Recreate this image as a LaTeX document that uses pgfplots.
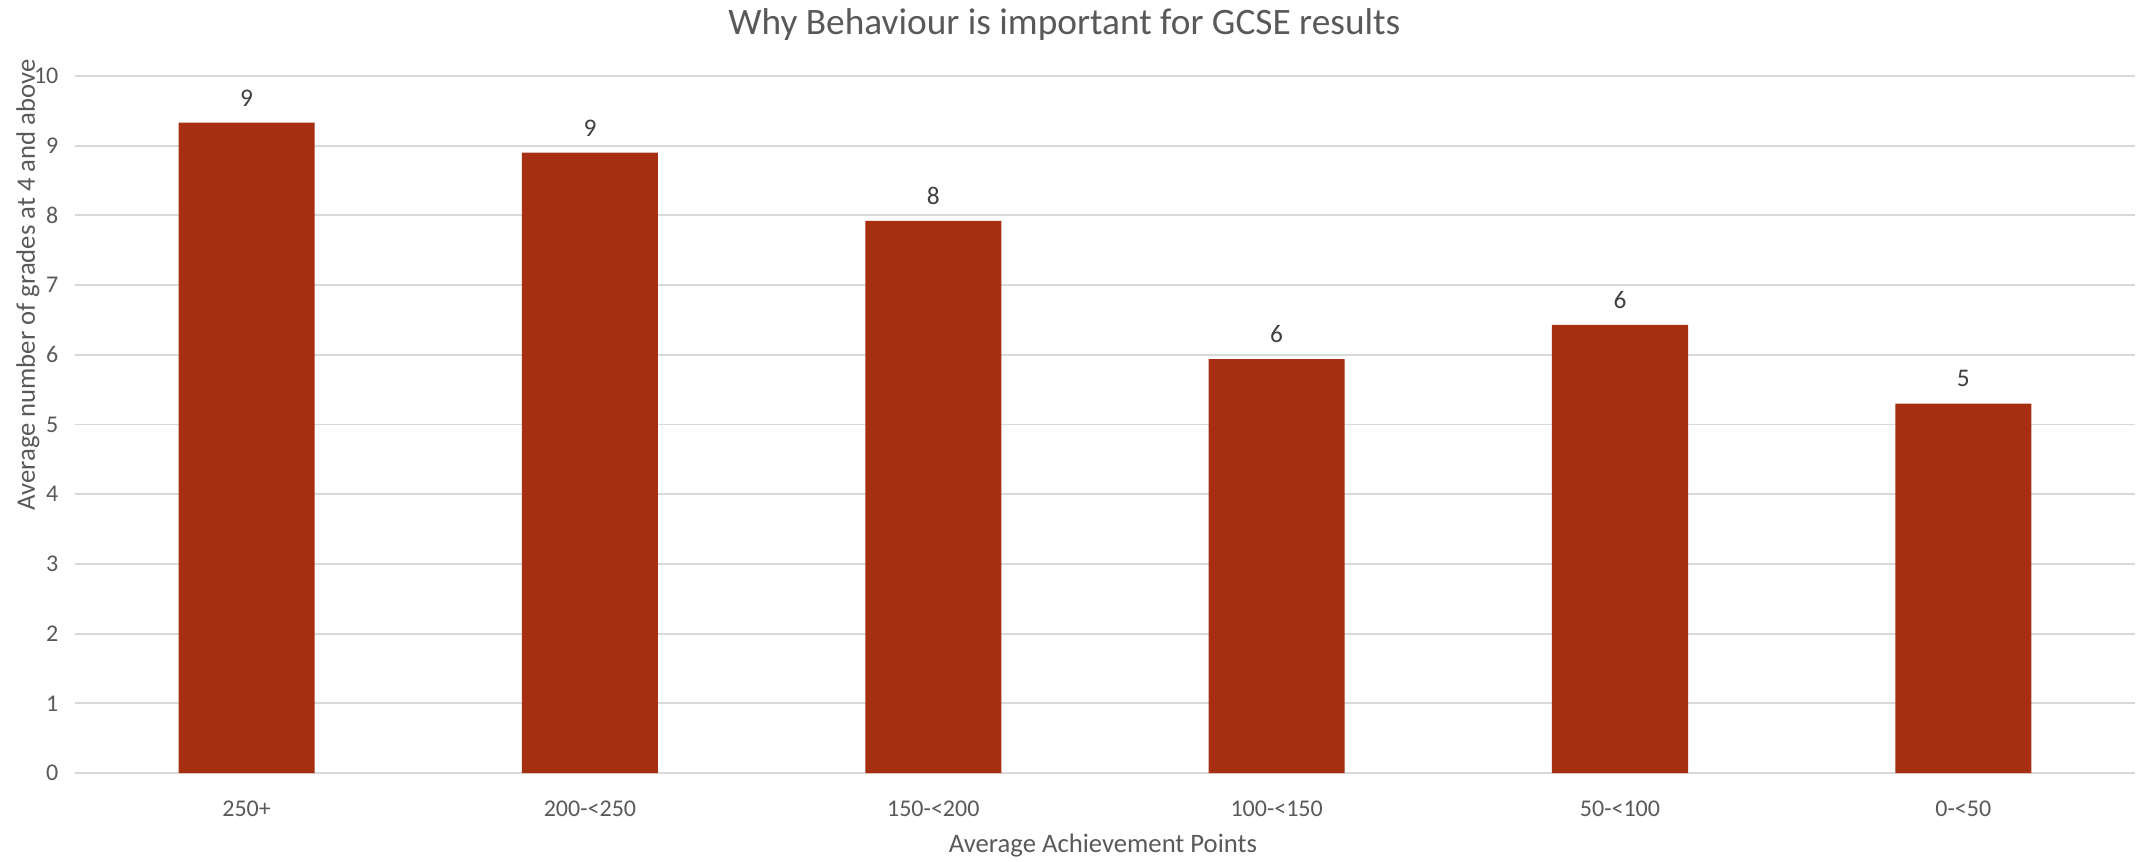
\documentclass[border=0pt]{standalone}
\usepackage{pgfplots}
\pgfplotsset{compat=1.18}
\usepackage{fontspec}
\setmainfont{Carlito}
\definecolor{barred}{HTML}{A52F10}
\definecolor{txtgray}{HTML}{595959}
\definecolor{lblgray}{HTML}{404040}
\definecolor{gridgray}{HTML}{D9D9D9}
\begin{document}
\begin{tikzpicture}
\begin{axis}[
  at={(0,0)}, anchor=south west,
  scale only axis,
  width=772.5pt, height=261.4pt,
  xmin=-0.5, xmax=5.5,
  ymin=0, ymax=10,
  xtick={0,1,2,3,4,5},
  xticklabels={250+,200-<250,150-<200,100-<150,50-<100,0-<50},
  ytick={0,1,2,3,4,5,6,7,8,9,10},
  ymajorgrids,
  grid style={color=gridgray, line width=0.7pt},
  axis line style={draw=none},
  tick style={draw=none},
  /pgf/number format/assume math mode=true,
  ticklabel style={font=\fontsize{9}{11}\selectfont, text=txtgray},
  xticklabel style={anchor=center, inner sep=0pt, yshift=-9pt},
  yticklabel style={anchor=east, inner sep=0pt, xshift=-6pt},
  ybar, bar width=51pt, bar shift=0pt,
  clip=false,
  every axis title shift=0pt,
  title={Why Behaviour is important for GCSE results},
  title style={at={(axis description cs:0.4803,1.0731)}, anchor=center, inner sep=0pt, font=\fontsize{14}{17}\selectfont, text=txtgray},
  xlabel={Average Achievement Points},
  xlabel style={at={(axis description cs:0.499,-0.1033)}, anchor=center, inner sep=0pt, font=\fontsize{10}{12}\selectfont, text=txtgray},
  ylabel={Average number of grades at 4 and above},
  ylabel style={at={(axis description cs:-0.02278,0.700)}, anchor=center, inner sep=0pt, font=\fontsize{10}{12}\selectfont, text=txtgray},
  nodes near coords={\pgfmathprintnumber[fixed,precision=0]{\pgfplotspointmeta}},
  every node near coord/.append style={anchor=center, inner sep=0pt, yshift=9.3pt, font=\fontsize{9.5}{11}\selectfont, text=lblgray},
]
\addplot[fill=barred, draw=none] coordinates {
  (0,9.33) (1,8.90) (2,7.92) (3,5.94) (4,6.43) (5,5.30)
};
\end{axis}
\path (-28.1pt,-33pt) rectangle (774pt,289.9pt);
\end{tikzpicture}
\end{document}
